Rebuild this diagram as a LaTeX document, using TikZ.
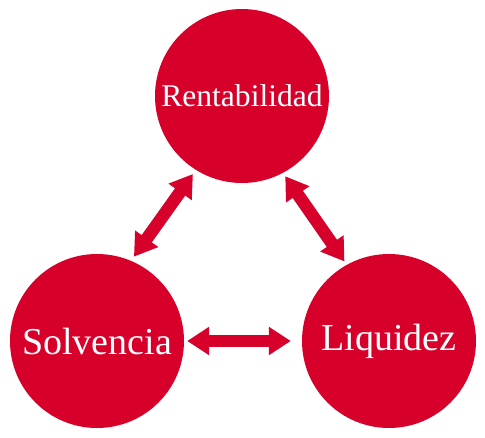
\documentclass[tikz,border=0pt]{standalone}
\usepackage{fontspec}
\setmainfont{Liberation Serif}
\usetikzlibrary{arrows.meta}
\definecolor{crim}{RGB}{215,0,42}
\begin{document}
\begin{tikzpicture}[x=1pt,y=-1pt,
  ball/.style={circle,fill=crim,minimum size=174pt,inner sep=0pt,text=white},
  dbl/.style={draw=crim,fill=crim,line width=12.5pt,
    arrows={Triangle[length=22pt,width=27pt]-Triangle[length=22pt,width=27pt]}}]
\useasboundingbox (0,0) rectangle (485,437);
\node[ball,font=\fontsize{31.6}{32}\selectfont] (r) at (242,96) {Rentabilidad};
\node[ball,font=\fontsize{38}{38}\selectfont] (s) at (97,341) {Solvencia};
\node[ball,font=\fontsize{38}{38}\selectfont] (l) at (389,341) {Liquidez};
\draw[dbl,shorten <=5pt,shorten >=5pt] (r.238) -- (s.67);
\draw[dbl,shorten <=4pt,shorten >=4pt] (r.298) -- (l.119);
\draw[dbl,shorten <=3pt,shorten >=11pt] (s.east) -- (l.west);
\end{tikzpicture}
\end{document}
